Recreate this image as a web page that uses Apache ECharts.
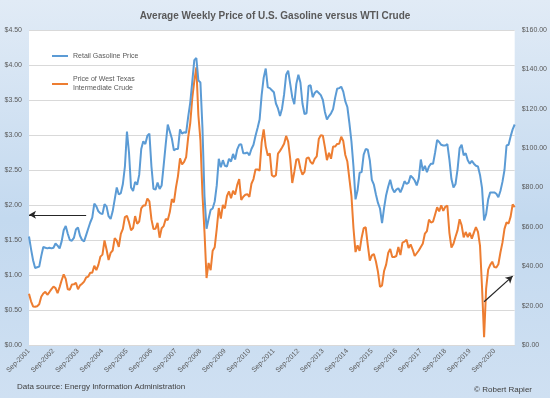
<!DOCTYPE html>
<html>
<head>
<meta charset="utf-8">
<script src="https://cdn.jsdelivr.net/npm/echarts@6/dist/echarts.min.js"></script>
<style>
html,body{margin:0;padding:0;background:#fff;}
#chart{width:550px;height:398px;}
</style>
</head>
<body>
<div id="chart"></div>
<script>
// Monthly categories Sep-2001 .. Jul-2021
var monthNames = ['Jan','Feb','Mar','Apr','May','Jun','Jul','Aug','Sep','Oct','Nov','Dec'];
var categories = [];
(function(){
  var y = 2001, m = 8;
  while (!(y === 2021 && m === 7)) {
    categories.push(monthNames[m] + '-' + y);
    m++; if (m === 12) { m = 0; y++; }
  }
})();

// Retail gasoline price ($/gal), Sep-2001 .. Jul-2021
var gasoline = [
  1.55, 1.37, 1.21, 1.10,
  1.11, 1.12, 1.27, 1.40, 1.39, 1.38, 1.39, 1.38, 1.39, 1.45, 1.42, 1.38,
  1.48, 1.64, 1.70, 1.59, 1.50, 1.49, 1.53, 1.65, 1.68, 1.56, 1.50, 1.48,
  1.57, 1.66, 1.75, 1.82, 2.02, 1.98, 1.91, 1.88, 1.87, 2.01, 1.98, 1.84,
  1.80, 1.91, 2.08, 2.25, 2.15, 2.17, 2.30, 2.55, 3.05, 2.75, 2.25, 2.20,
  2.33, 2.29, 2.43, 2.80, 2.91, 2.87, 2.99, 3.02, 2.55, 2.23, 2.22, 2.32,
  2.23, 2.28, 2.57, 2.87, 3.15, 3.05, 2.95, 2.78, 2.80, 2.80, 3.08, 3.02,
  3.04, 3.03, 3.26, 3.46, 3.76, 4.07, 4.10, 3.78, 3.75, 3.10, 2.12, 1.66,
  1.80, 1.93, 1.95, 2.05, 2.28, 2.66, 2.54, 2.64, 2.56, 2.55, 2.66, 2.62,
  2.73, 2.65, 2.79, 2.86, 2.87, 2.74, 2.74, 2.75, 2.71, 2.80, 2.86, 2.99,
  3.10, 3.22, 3.57, 3.82, 3.95, 3.68, 3.67, 3.64, 3.61, 3.45, 3.38, 3.27,
  3.38, 3.58, 3.86, 3.92, 3.73, 3.54, 3.44, 3.73, 3.86, 3.75, 3.45, 3.30,
  3.31, 3.70, 3.71, 3.54, 3.60, 3.63, 3.60, 3.57, 3.50, 3.33, 3.22, 3.27,
  3.31, 3.37, 3.53, 3.66, 3.67, 3.69, 3.62, 3.48, 3.40, 3.17, 2.91, 2.55,
  2.08, 2.21, 2.46, 2.47, 2.72, 2.80, 2.79, 2.64, 2.36, 2.29, 2.15, 2.03,
  1.95, 1.74, 1.96, 2.14, 2.26, 2.36, 2.24, 2.18, 2.22, 2.24, 2.18, 2.25,
  2.34, 2.30, 2.32, 2.42, 2.39, 2.35, 2.28, 2.38, 2.65, 2.49, 2.56, 2.47,
  2.55, 2.59, 2.59, 2.75, 2.93, 2.90, 2.86, 2.85, 2.85, 2.87, 2.65, 2.37,
  2.25, 2.30, 2.51, 2.81, 2.86, 2.71, 2.74, 2.64, 2.59, 2.63, 2.59, 2.56,
  2.55, 2.43, 2.24, 1.78, 1.87, 2.08, 2.18, 2.18, 2.18, 2.16, 2.11, 2.20,
  2.33, 2.50, 2.85, 2.86, 2.98, 3.08, 3.15
];

// WTI crude price ($/bbl), Sep-2001 .. Jul-2021
var wti = [
  26.0, 22.2, 19.6, 19.4,
  19.7, 20.7, 24.5, 26.2, 27.0, 25.5, 26.9, 28.4, 29.7, 28.9, 26.3, 29.4,
  32.9, 35.9, 33.6, 28.3, 28.1, 30.7, 30.8, 31.6, 28.3, 30.3, 31.1, 32.2,
  34.3, 34.7, 36.7, 36.7, 40.3, 38.0, 40.7, 44.9, 45.9, 53.1, 48.5, 43.2,
  46.8, 48.0, 54.3, 53.0, 49.8, 56.4, 59.0, 65.0, 65.6, 62.4, 58.3, 59.4,
  65.5, 61.6, 62.7, 69.4, 70.8, 70.9, 74.4, 73.0, 63.8, 58.9, 59.1, 62.0,
  54.5, 59.3, 60.4, 64.0, 63.5, 67.5, 74.1, 72.4, 79.9, 85.8, 94.8, 91.7,
  93.0, 95.4, 105.5, 112.6, 125.4, 134.0, 141.0, 116.7, 104.1, 76.6, 57.3, 34.0,
  41.7, 38.0, 47.9, 49.7, 59.0, 69.6, 64.2, 71.1, 69.4, 75.7, 78.0, 74.5,
  78.3, 76.4, 81.2, 84.3, 73.7, 75.3, 76.3, 76.6, 75.2, 81.9, 84.3, 89.2,
  89.2, 88.6, 102.9, 109.5, 100.9, 96.3, 97.3, 86.3, 85.5, 86.3, 97.2, 98.6,
  100.3, 102.2, 106.2, 103.3, 94.7, 82.3, 87.9, 94.1, 94.5, 89.5, 86.5, 87.9,
  94.8, 95.3, 92.9, 92.0, 94.5, 95.8, 104.6, 106.6, 106.3, 100.5, 93.9, 97.6,
  94.6, 100.8, 100.8, 102.1, 102.2, 105.8, 103.6, 96.5, 93.2, 84.4, 75.8, 59.3,
  47.2, 50.6, 47.8, 54.5, 59.3, 59.8, 50.9, 42.9, 45.5, 46.2, 42.4, 37.2,
  29.5, 30.3, 37.6, 40.8, 46.7, 48.8, 44.7, 44.7, 45.2, 49.8, 45.7, 52.0,
  52.5, 53.5, 49.3, 51.1, 48.5, 45.2, 46.6, 48.0, 49.8, 51.6, 56.6, 57.9,
  63.7, 62.2, 62.7, 66.3, 70.0, 67.9, 71.0, 68.1, 70.2, 70.8, 57.0, 49.5,
  51.4, 55.0, 58.2, 63.9, 60.8, 54.7, 57.4, 54.8, 57.0, 54.0, 57.1, 59.9,
  57.5, 50.5, 29.2, 4.0, 28.6, 38.3, 40.7, 42.3, 39.6, 39.4, 41.0, 47.0,
  52.0, 59.0, 62.3, 61.7, 65.2, 71.4, 70.0
];

var leftTicks = {min: 0, max: 4.5, interval: 0.5};
var rightTicks = {min: 0, max: 160, interval: 20};
var seriesNames = ['Retail Gasoline Price', 'Price of West Texas\nIntermediate Crude'];
// annotation arrows (data coordinates)
var leftArrow = [['Jan-2004', 1.86], ['Sep-2001', 1.86]];
var rightArrow = [['Apr-2020', 22], ['Jun-2021', 35]];

var FONT = 'Liberation Sans, Arial, sans-serif';
var chart = echarts.init(document.getElementById('chart'), null, {renderer: 'canvas'});
chart.setOption({
  animation: false,
  backgroundColor: {
    type: 'linear', x: 0, y: 0, x2: 0, y2: 1,
    colorStops: [
      {offset: 0, color: '#e1ebf6'},
      {offset: 0.55, color: '#c3d9ef'},
      {offset: 1, color: '#cfe0f2'}
    ]
  },
  title: {
    text: 'Average Weekly Price of U.S. Gasoline versus WTI Crude',
    left: 'center', top: 6,
    textStyle: {fontFamily: FONT, fontSize: 10, fontWeight: 'bold', color: '#595959'}
  },
  legend: {
    orient: 'vertical', left: 47, top: 46.5, itemGap: 10,
    icon: 'rect', itemWidth: 16, itemHeight: 2,
    textStyle: {fontFamily: FONT, fontSize: 7, color: '#595959', lineHeight: 9},
    data: [
      {name: seriesNames[0]},
      {name: seriesNames[1], textStyle: {padding: [9, 0, 0, 0]}}
    ]
  },
  graphic: [
    {type: 'text', left: 17, top: 383, style: {text: 'Data source: Energy Information Administration', font: '8px Liberation Sans, Arial, sans-serif', fill: '#404040'}},
    {type: 'text', right: 18, top: 386, style: {text: '\u00a9 Robert Rapier', font: '8px Liberation Sans, Arial, sans-serif', fill: '#404040'}}
  ],
  grid: {left: 29, right: 35, top: 30, bottom: 53, show: true, backgroundColor: '#ffffff', borderWidth: 0, containLabel: false},
  xAxis: {
    type: 'category', data: categories, boundaryGap: false,
    axisLine: {show: true, lineStyle: {color: '#d9d9d9'}},
    axisTick: {show: false},
    axisLabel: {interval: 11, rotate: 45, fontFamily: FONT, fontSize: 7, color: '#595959', margin: 5},
    splitLine: {show: false}
  },
  yAxis: [
    {
      type: 'value', min: leftTicks.min, max: leftTicks.max, interval: leftTicks.interval,
      axisLine: {show: false}, axisTick: {show: false},
      axisLabel: {fontFamily: FONT, fontSize: 7, color: '#595959', margin: 7, formatter: function (v) { return '$' + v.toFixed(2); }},
      splitLine: {show: true, lineStyle: {color: '#d9d9d9', width: 1}}
    },
    {
      type: 'value', min: rightTicks.min, max: rightTicks.max, interval: rightTicks.interval,
      axisLine: {show: false}, axisTick: {show: false},
      axisLabel: {fontFamily: FONT, fontSize: 7, color: '#595959', margin: 7, formatter: function (v) { return '$' + v.toFixed(2); }},
      splitLine: {show: false}
    }
  ],
  series: [
    {
      name: seriesNames[0], type: 'line', data: gasoline, yAxisIndex: 0,
      showSymbol: false, symbol: 'none', color: '#5b9bd5',
      lineStyle: {width: 2, color: '#5b9bd5'}, z: 3,
      markLine: {
        silent: true, symbol: ['none', 'arrow'], symbolSize: [6, 7],
        lineStyle: {color: '#262626', width: 1.2, type: 'solid'},
        label: {show: false},
        data: [[{coord: leftArrow[0]}, {coord: leftArrow[1]}]]
      }
    },
    {
      name: seriesNames[1], type: 'line', data: wti, yAxisIndex: 1,
      showSymbol: false, symbol: 'none', color: '#ed7d31',
      lineStyle: {width: 2, color: '#ed7d31'}, z: 2,
      markLine: {
        silent: true, symbol: ['none', 'arrow'], symbolSize: [6, 7],
        lineStyle: {color: '#262626', width: 1.2, type: 'solid'},
        label: {show: false},
        data: [[{coord: rightArrow[0]}, {coord: rightArrow[1]}]]
      }
    }
  ]
});
</script>
</body>
</html>
